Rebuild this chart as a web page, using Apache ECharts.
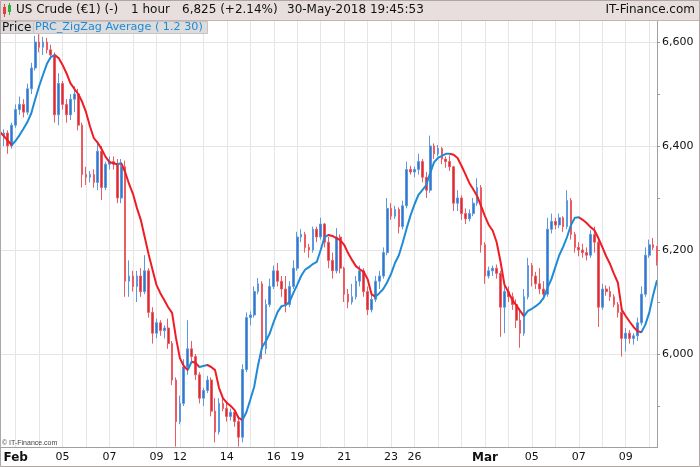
<!DOCTYPE html>
<html><head><meta charset="utf-8">
<script src="https://cdn.jsdelivr.net/npm/echarts@6/dist/echarts.min.js"></script>
<style>html,body{margin:0;padding:0;background:#fff}#c{width:700px;height:467px}</style>
</head><body><div id="c"></div>
<script>
// ---- data ----
const dayNames = ['Feb','02','05','06','07','08','09','12','13','14','15','16','19','20','21','22','23','26','27','28','Mar','02','05','06','07','08','09','12'];
const dayShown = [1,0,1,0,1,0,1,1,0,1,0,1,1,0,1,0,1,1,0,0,1,0,1,0,1,0,1,0];
const yLabelValues = [6000, 6200, 6400, 6600];

const opens = [
6430,6420,6425,6400,6440,6470,6480,6465,6510,6550,
6600,6590,6600,6585,6575,6460,6520,6480,6460,6490,
6500,6440,6345,6340,6345,6330,6390,6320,6365,6370,
6365,6300,6360,6140,6150,6130,6150,6120,6160,6080,
6040,6060,6045,6050,6020,5950,5870,5905,5975,6010,
5995,5960,5915,5930,5950,5890,5850,5905,5895,5880,
5888,5870,5840,5970,6070,6075,6120,6135,6010,6095,
6130,6160,6140,6125,6095,6130,6165,6225,6230,6205,
6200,6240,6225,6250,6215,6180,6160,6225,6165,6115,
6100,6110,6140,6160,6120,6085,6105,6140,6150,6195,
6280,6265,6278,6245,6285,6355,6350,6355,6370,6340,
6315,6400,6385,6395,6375,6370,6360,6290,6300,6270,
6260,6270,6290,6320,6210,6150,6160,6165,6155,6090,
6120,6110,6095,6065,6040,6110,6170,6150,6135,6125,
6115,6240,6255,6248,6262,6245,6295,6230,6205,6200,
6195,6190,6230,6215,6090,6125,6120,6110,6095,6080,
6030,6040,6030,6035,6060,6115,6190,6210,6205];
const highs = [
6440,6432,6430,6445,6480,6495,6490,6520,6560,6612,
6615,6610,6608,6595,6580,6540,6525,6490,6500,6515,
6510,6445,6360,6352,6355,6410,6400,6370,6380,6380,
6375,6375,6372,6180,6160,6160,6165,6190,6165,6090,
6068,6065,6055,6068,6025,5955,5920,5990,6065,6025,
6000,5965,5935,5958,5955,5915,5915,5917,5910,5895,
5892,5880,5980,6080,6082,6130,6146,6140,6105,6145,
6170,6175,6150,6150,6140,6180,6235,6240,6235,6212,
6245,6245,6262,6252,6225,6195,6242,6230,6168,6125,
6135,6150,6170,6165,6130,6115,6150,6160,6205,6300,
6290,6285,6282,6295,6370,6362,6360,6385,6375,6350,
6420,6405,6402,6398,6380,6382,6362,6315,6305,6280,
6278,6300,6338,6325,6215,6168,6170,6172,6160,6135,
6130,6118,6105,6085,6125,6185,6175,6158,6165,6140,
6262,6270,6262,6270,6265,6315,6300,6235,6215,6212,
6205,6238,6245,6225,6135,6132,6130,6115,6100,6085,
6050,6046,6040,6070,6130,6205,6220,6223,6208];
const lows = [
6415,6400,6385,6395,6435,6460,6455,6460,6500,6545,
6580,6575,6578,6570,6445,6440,6470,6445,6450,6465,
6430,6320,6325,6330,6320,6315,6296,6315,6355,6355,
6290,6290,6110,6110,6120,6100,6110,6115,6070,6020,
6030,6035,6030,6010,5940,5822,5865,5900,5960,5985,
5950,5905,5900,5925,5880,5830,5845,5890,5870,5872,
5860,5822,5830,5965,6055,6070,6115,5990,6000,6090,
6125,6130,6110,6080,6090,6125,6160,6215,6195,6185,
6195,6215,6220,6205,6165,6145,6155,6155,6100,6088,
6095,6105,6130,6110,6075,6080,6100,6125,6145,6190,
6258,6260,6232,6240,6280,6345,6340,6345,6330,6300,
6310,6375,6380,6365,6358,6352,6275,6275,6258,6250,
6255,6265,6285,6195,6135,6145,6150,6145,6033,6040,
6100,6085,6050,6012,6035,6105,6130,6125,6115,6105,
6110,6232,6240,6242,6235,6240,6220,6195,6188,6185,
6180,6185,6195,6052,6085,6112,6102,6090,6070,5995,
6005,6020,6018,6025,6055,6110,6185,6200,6170];
const closes = [
6420,6425,6400,6440,6470,6480,6465,6510,6550,6600,
6590,6600,6585,6575,6460,6520,6480,6460,6490,6500,
6440,6345,6340,6345,6330,6390,6320,6365,6370,6365,
6300,6360,6140,6150,6130,6150,6120,6160,6080,6040,
6060,6045,6050,6020,5950,5870,5905,5975,6010,5995,
5960,5915,5930,5950,5890,5850,5905,5895,5880,5888,
5870,5840,5970,6070,6075,6120,6135,6010,6095,6130,
6160,6140,6125,6095,6130,6165,6225,6230,6205,6200,
6240,6225,6250,6215,6180,6160,6225,6165,6115,6100,
6110,6140,6160,6120,6085,6105,6140,6150,6195,6280,
6265,6278,6245,6285,6355,6350,6355,6370,6340,6315,
6400,6385,6395,6375,6370,6360,6290,6300,6270,6260,
6270,6290,6320,6210,6150,6160,6165,6155,6090,6120,
6110,6095,6065,6040,6110,6170,6150,6135,6125,6115,
6240,6255,6248,6262,6245,6295,6230,6205,6200,6195,
6190,6230,6215,6090,6125,6120,6110,6095,6080,6030,
6040,6030,6035,6060,6115,6190,6210,6205,6178];
const zigzagAvg = [
6427,6419,6410,6402,6410,6421,6433,6446,6463,6490,
6515,6537,6558,6571,6575,6569,6556,6540,6521,6510,
6500,6485,6465,6438,6415,6406,6394,6379,6369,6367,
6365,6367,6350,6327,6308,6281,6258,6225,6192,6162,
6133,6117,6104,6090,6079,6031,5992,5977,5969,5985,
5983,5975,5977,5979,5975,5969,5935,5915,5906,5900,
5892,5877,5873,5888,5912,5937,5979,6013,6025,6040,
6062,6081,6092,6094,6100,6117,6133,6150,6162,6167,
6173,6177,6200,6225,6229,6227,6223,6219,6210,6194,
6181,6169,6163,6158,6144,6115,6110,6117,6125,6138,
6154,6175,6190,6215,6242,6267,6288,6306,6315,6325,
6348,6369,6377,6381,6385,6385,6383,6377,6362,6346,
6329,6317,6304,6285,6265,6248,6237,6215,6177,6133,
6119,6104,6094,6083,6073,6083,6087,6092,6098,6108,
6127,6144,6167,6190,6206,6225,6248,6262,6263,6258,
6252,6244,6238,6223,6206,6188,6173,6154,6137,6085,
6073,6062,6052,6044,6042,6056,6079,6113,6142];

// ---- build ----
const N = closes.length;
const FIRST_DAY = 4, PER_DAY = 6;
const categories = [];
for (let i = 0; i < N; i++) {
  const k = Math.floor((i - FIRST_DAY) / PER_DAY);
  const h = ((i - FIRST_DAY) % PER_DAY + PER_DAY) % PER_DAY;
  categories.push((k < 0 ? 'Jan31' : 'D' + k + '-' + dayNames[k]) + '#' + h);
}
const isDayStart = i => i >= FIRST_DAY && (i - FIRST_DAY) % PER_DAY === 0;
const dayOf = i => (i - FIRST_DAY) / PER_DAY;
const candles = opens.map((o, i) => [o, closes[i], lows[i], highs[i]]);

const UP = '#1f8ad6', DOWN = '#f01c24';
const pieces = [];
let start = 0, dir = zigzagAvg[1] >= zigzagAvg[0];
for (let i = 1; i < N - 1; i++) {
  const d = zigzagAvg[i + 1] >= zigzagAvg[i];
  if (d !== dir) {
    pieces.push(pieces.length ? {gt: start, lte: i, color: dir ? UP : DOWN} : {gte: start, lte: i, color: dir ? UP : DOWN});
    start = i; dir = d;
  }
}
pieces.push({gt: start, lte: N - 1, color: dir ? UP : DOWN});

const FONT = 'DejaVu Sans';
const chart = echarts.init(document.getElementById('c'), null, {renderer: 'canvas'});
chart.setOption({
  animation: false,
  backgroundColor: '#ffffff',
  grid: {left: 0, right: 43, top: 16, bottom: 9, containLabel: false, outerBoundsMode: 'none'},
  xAxis: [{
    type: 'category', data: categories, boundaryGap: false, position: 'bottom',
    axisLine: {show: false, onZero: false}, axisTick: {show: false}, axisLabel: {show: false},
    splitLine: {show: true, interval: (i) => isDayStart(i), lineStyle: {color: '#e6e6e6', width: 1}},
    z: 0
  }, {
    type: 'category', data: categories, boundaryGap: false, position: 'bottom', offset: -11,
    axisLine: {show: true, onZero: false, lineStyle: {color: '#a0a0a0', width: 1}},
    axisTick: {show: false}, splitLine: {show: false},
    axisLabel: {
      show: true, margin: 5, color: '#111', fontFamily: FONT, fontSize: 11,
      interval: (i) => isDayStart(i) && dayShown[dayOf(i)] === 1,
      formatter: (v, i) => {
        const t = dayNames[dayOf(i)];
        return (t === 'Feb' || t === 'Mar') ? '{b|' + t + '}' : t;
      },
      rich: {b: {fontFamily: FONT, fontSize: 12, fontWeight: 'bold', color: '#111'}}
    },
    z: 60
  }],
  yAxis: {
    type: 'value', position: 'right', min: 5800, max: 6650, interval: 200, scale: true,
    axisLine: {show: true, lineStyle: {color: '#a0a0a0', width: 1}},
    axisTick: {show: true, length: 3, lineStyle: {color: '#999'}},
    minorTick: {show: true, splitNumber: 2, length: 3, lineStyle: {color: '#999'}},
    splitLine: {show: true, lineStyle: {color: '#e4e4e4', width: 1}},
    axisLabel: {
      show: true, margin: 5, color: '#111', fontFamily: FONT, fontSize: 11,
      formatter: v => yLabelValues.indexOf(v) >= 0 ? v.toLocaleString('en-US') : ''
    },
    z: 0
  },
  visualMap: {type: 'piecewise', show: false, dimension: 0, seriesIndex: 1, pieces: pieces},
  series: [{
    type: 'candlestick', name: 'Price', data: candles, xAxisIndex: 0, yAxisIndex: 0,
    barWidth: 2.2,
    itemStyle: {color: '#3575cc', color0: '#d82a33', borderColor: '#5a98e0', borderColor0: '#ec5a62', borderWidth: 1},
    z: 2
  }, {
    type: 'line', name: 'PRC_ZigZag Average', data: zigzagAvg, xAxisIndex: 0, yAxisIndex: 0,
    symbol: 'none', showSymbol: false, smooth: false,
    lineStyle: {width: 2}, z: 3
  }],
  graphic: {elements: [
    {type: 'rect', shape: {x: 0, y: 448, width: 700, height: 11}, style: {fill: '#ffffff'}, z: 50, silent: true},
    {type: 'rect', shape: {x: 0, y: 0, width: 700, height: 20}, style: {fill: '#e8dede'}, z: 100},
    {type: 'line', shape: {x1: 0, y1: 20.5, x2: 700, y2: 20.5}, style: {stroke: '#c2b4b4', lineWidth: 1}, z: 101},
    {type: 'line', shape: {x1: 4.5, y1: 4, x2: 4.5, y2: 17}, style: {stroke: '#e04040', lineWidth: 1}, z: 101},
    {type: 'rect', shape: {x: 3, y: 7, width: 3, height: 7}, style: {fill: '#e04040'}, z: 102},
    {type: 'line', shape: {x1: 9.5, y1: 3, x2: 9.5, y2: 15}, style: {stroke: '#2fae3c', lineWidth: 1}, z: 101},
    {type: 'rect', shape: {x: 8, y: 5, width: 3, height: 7}, style: {fill: '#2fae3c'}, z: 102},
    {type: 'text', x: 16, y: 10, style: {text: 'US Crude (€1) (-)', font: '12px "DejaVu Sans"', fill: '#111', verticalAlign: 'middle'}, z: 102},
    {type: 'text', x: 131, y: 10, style: {text: '1 hour', font: '12px "DejaVu Sans"', fill: '#111', verticalAlign: 'middle'}, z: 102},
    {type: 'text', x: 182, y: 10, style: {text: '6,825 (+2.14%)', font: '12px "DejaVu Sans"', fill: '#111', verticalAlign: 'middle'}, z: 102},
    {type: 'text', x: 287, y: 10, style: {text: '30-May-2018 19:45:53', font: '12px "DejaVu Sans"', fill: '#111', verticalAlign: 'middle'}, z: 102},
    {type: 'text', x: 695, y: 10, style: {text: 'IT-Finance.com', font: '12px "DejaVu Sans"', fill: '#111', align: 'right', verticalAlign: 'middle'}, z: 102},
    {type: 'rect', shape: {x: 0.5, y: 21.5, width: 33, height: 12}, style: {fill: '#dedada', stroke: '#c8c2c2', lineWidth: 1}, z: 100},
    {type: 'text', x: 2, y: 27.5, style: {text: 'Price', font: '12px "DejaVu Sans"', fill: '#111', verticalAlign: 'middle'}, z: 101},
    {type: 'rect', shape: {x: 33.5, y: 21.5, width: 174, height: 12}, style: {fill: '#dcdcdc', stroke: '#c8c2c2', lineWidth: 1}, z: 100},
    {type: 'text', x: 35, y: 27.5, style: {text: 'PRC_ZigZag Average ( 1.2 30)', font: '11.2px "DejaVu Sans"', fill: '#1f8ad6', verticalAlign: 'middle'}, z: 101},
    {type: 'text', x: 2, y: 443, style: {text: '© IT-Finance.com', font: '7px "Liberation Sans"', fill: '#444', verticalAlign: 'middle'}, z: 55},
    {type: 'rect', shape: {x: 0.5, y: 0.5, width: 699, height: 466}, style: {fill: 'none', stroke: '#b0a6a6', lineWidth: 1}, z: 200, silent: true}
  ]}
});
</script>
</body></html>
